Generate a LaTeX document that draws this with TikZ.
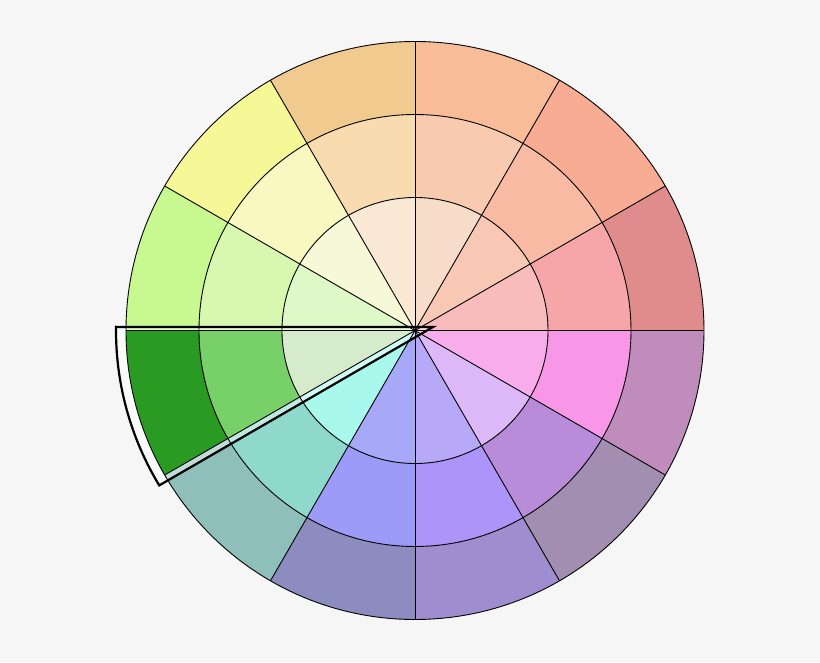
\documentclass[tikz,border=0pt]{standalone}
\definecolor{bgc}{HTML}{F6F6F6}
\tikzset{
  ringline/.style={draw=black, line width=0.9pt},
  hilite/.style={draw=black, line width=2.2pt, line join=miter},
  band/.style={fill=white, fill opacity=0.45, even odd rule}
}
\begin{document}
\begin{tikzpicture}[x=1pt,y=1pt]
\useasboundingbox (-415,-331.5) rectangle (405,330.5);
\fill[bgc] (-415,-331.5) rectangle (405,330.5);
% wedges: index / outer / middle / inner colours
\foreach \i/\co/\cm/\ci in {
  0/E08C8C/F6A6A8/F8BCBC,
  1/F8AC94/F8BAA2/F8C8B4,
  2/F8BC98/F8CAB0/F8DCCA,
  3/F0CA8E/F8DCB0/F8E8D4,
  4/F6F898/F8F8C0/F6F8D8,
  5/C8F890/D8F8B0/DEF8C8,
  6/299A22/78D068/D6EACC,
  7/8EBFBA/8ED8CC/A8F8EC,
  8/8C8CC0/9C9CF8/A8A8F8,
  9/9E8ECF/AC94F8/B8A8F8,
  10/A28EB0/B88CD8/DCB8F8,
  11/C08CBC/F896E8/F8ACEC}{
  \pgfmathsetmacro\a{30*\i}
  \pgfmathsetmacro\b{30*\i+30}
  \definecolor{wo}{HTML}{\co}
  \definecolor{wm}{HTML}{\cm}
  \definecolor{wi}{HTML}{\ci}
  \fill[wi] (0,0) -- (\a:133) arc[start angle=\a, end angle=\b, radius=133] -- cycle;
  \fill[wm] (\a:133) -- (\a:216) arc[start angle=\a, end angle=\b, radius=216] -- (\b:133) arc[start angle=\b, end angle=\a, radius=133] -- cycle;
  \fill[wo] (\a:216) -- (\a:289) arc[start angle=\a, end angle=\b, radius=289] -- (\b:216) arc[start angle=\b, end angle=\a, radius=216] -- cycle;
}
% highlight outline geometry
\coordinate (tl) at (-298,3.5);
\coordinate (apex) at (18,3.5);
\coordinate (bl) at (211.2:299);
% translucent band between outline and the highlighted sector
\path[band] (tl) -- (apex) -- (bl) arc[start angle=211.2, end angle=179.3, radius=299] -- cycle
  (0,0) -- (180:289) arc[start angle=180, end angle=210, radius=289] -- cycle;
% ring and spoke lines
\foreach \r in {133,216,289} \draw[ringline] (0,0) circle[radius=\r];
\foreach \k in {0,30,...,330} \draw[ringline] (0,0) -- (\k:289);
% highlight outline
\draw[hilite] (tl) -- (apex) -- (bl) arc[start angle=211.2, end angle=179.3, radius=299] -- cycle;
\end{tikzpicture}
\end{document}
